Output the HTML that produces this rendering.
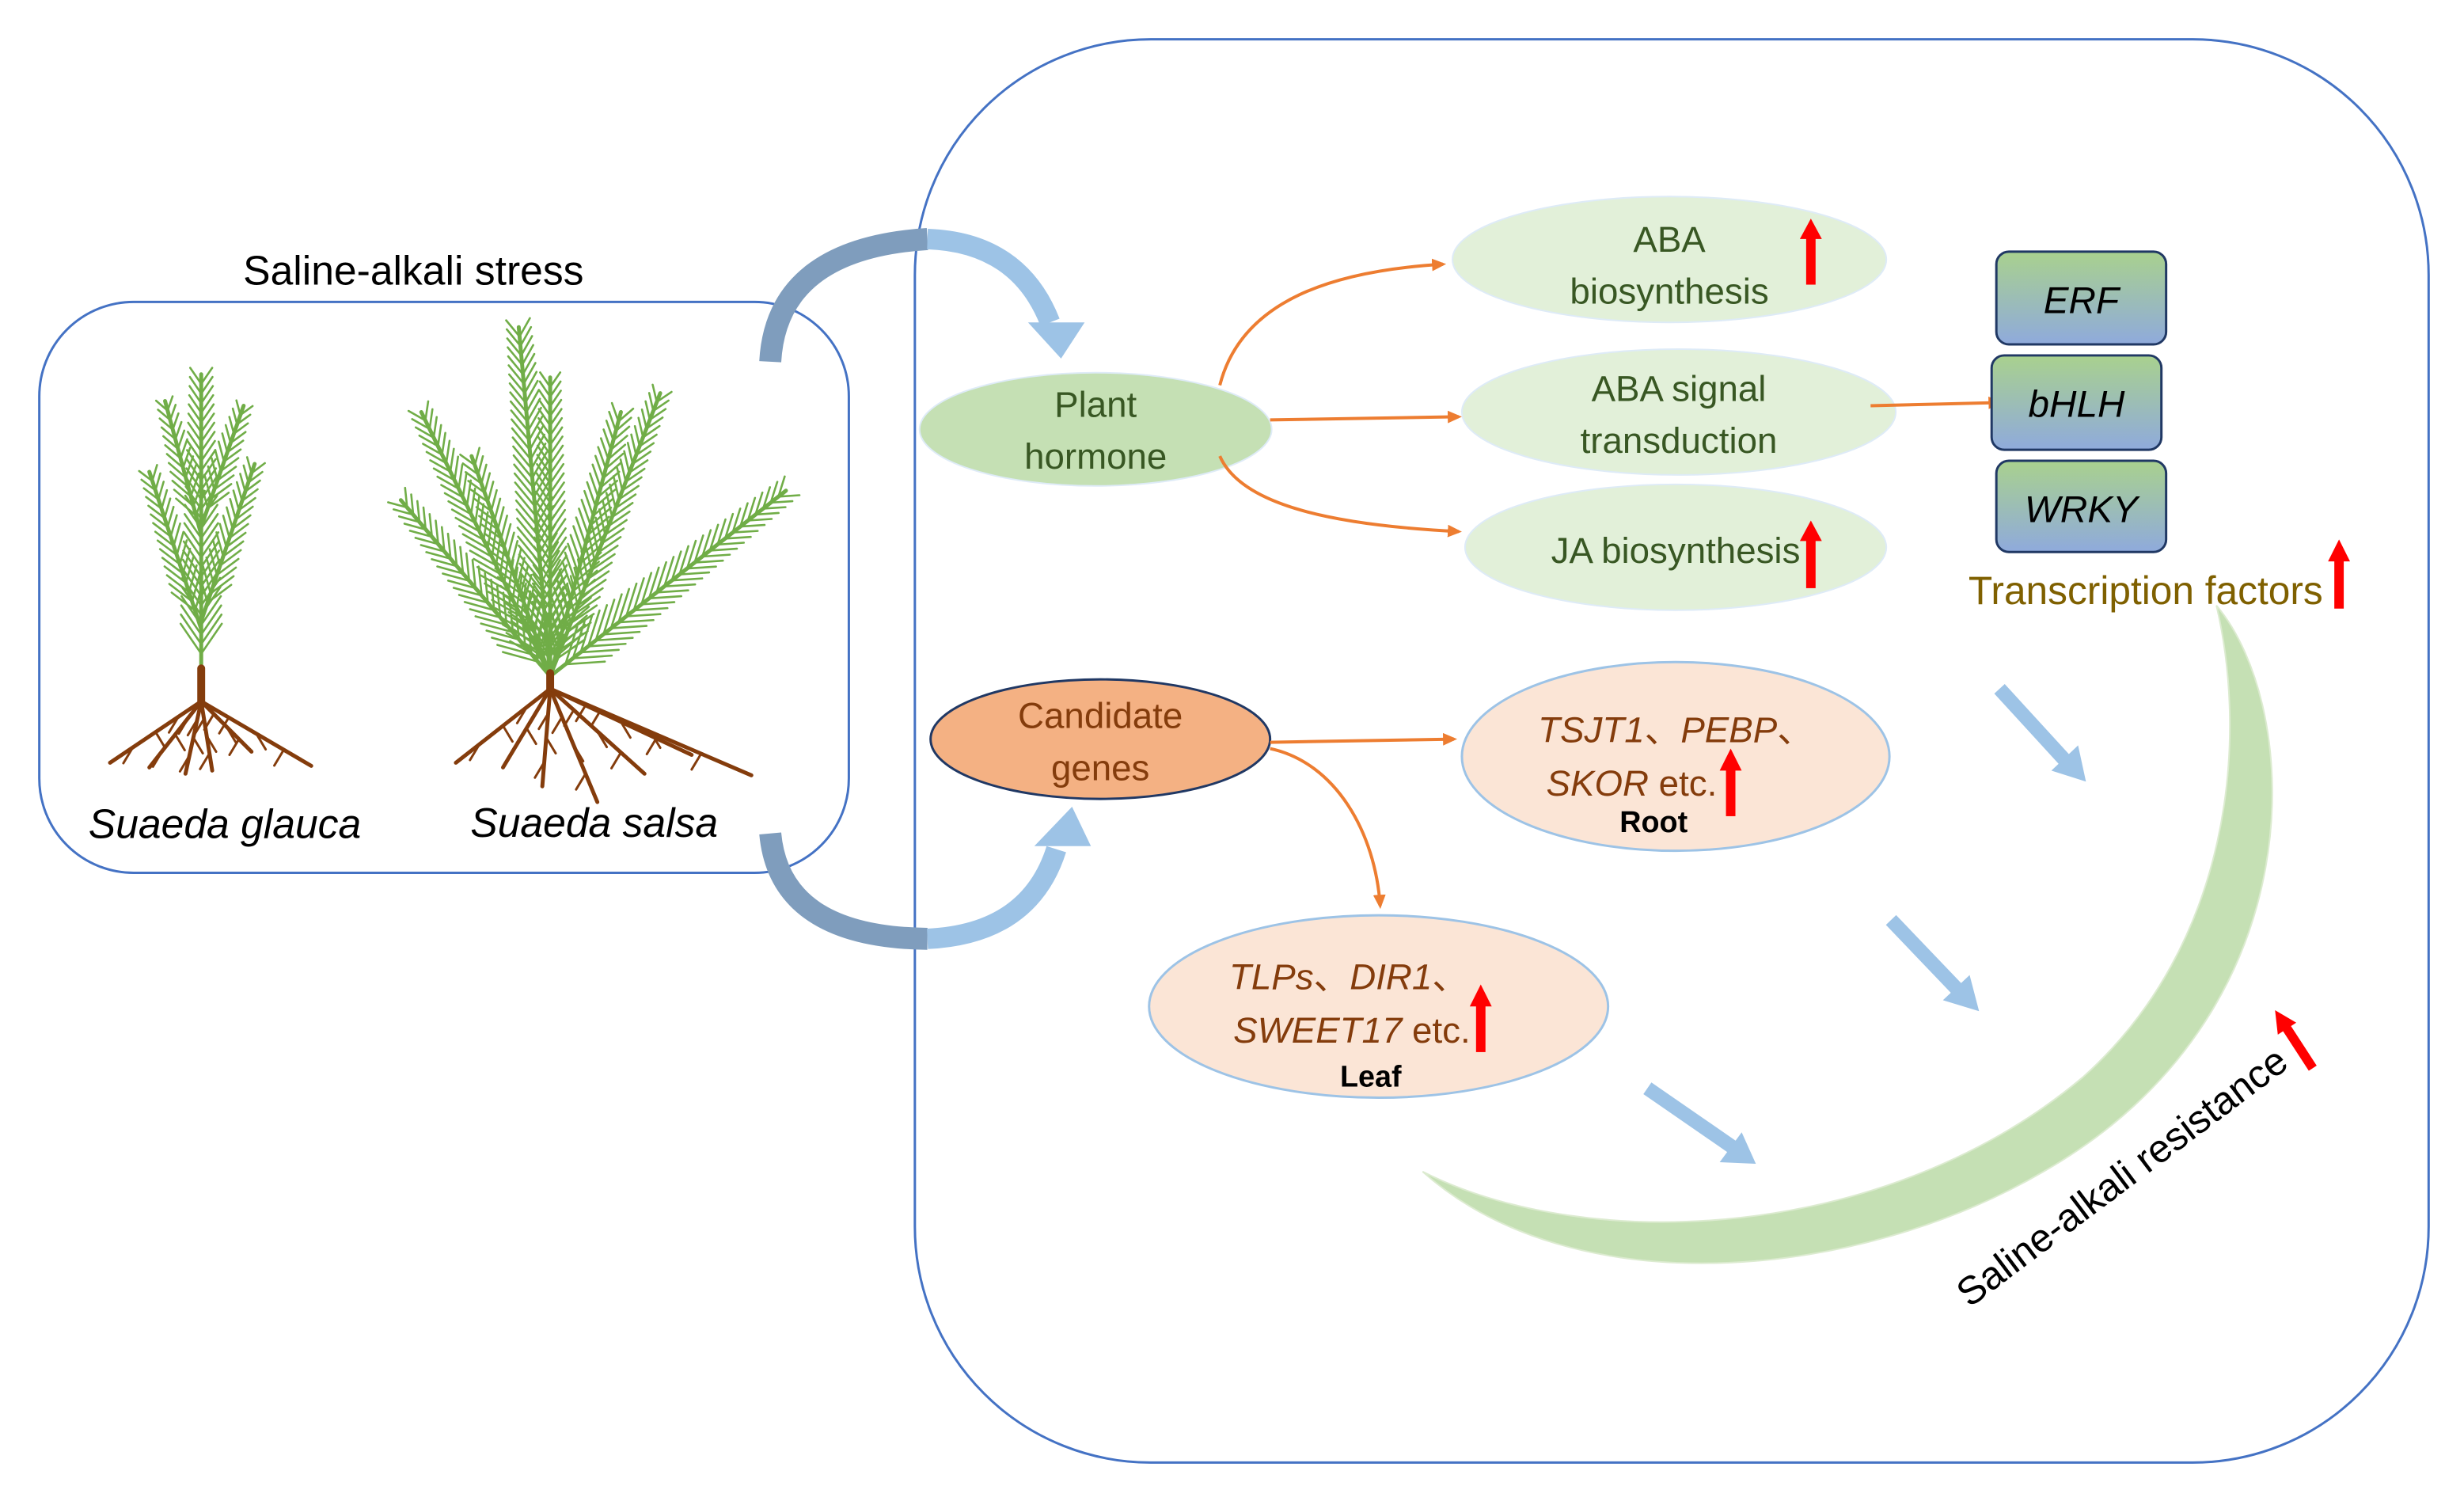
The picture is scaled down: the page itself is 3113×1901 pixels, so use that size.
<!DOCTYPE html>
<html><head><meta charset="utf-8"><style>
html,body{margin:0;padding:0;background:#fff;}
svg{display:block;}
text{font-family:"Liberation Sans",Arial,sans-serif;}
</style></head><body>
<svg id="s" width="3113" height="1901" viewBox="0 0 1567.5 957" preserveAspectRatio="none" xmlns="http://www.w3.org/2000/svg">
<defs>
<linearGradient id="tf" x1="0" y1="0" x2="0" y2="1">
<stop offset="0" stop-color="#A9D18E"/><stop offset="1" stop-color="#8FAADC"/></linearGradient>
<marker id="oa" markerWidth="9" markerHeight="8" refX="7" refY="4" orient="auto" markerUnits="userSpaceOnUse">
<path d="M0,0 L9,4 L0,8 Z" fill="#ED7D31"/></marker>
</defs>
<rect x="25" y="192" width="515" height="363" rx="60" fill="none" stroke="#4472C4" stroke-width="1.5"/>
<rect x="582" y="25" width="963" height="905" rx="150" fill="none" stroke="#4472C4" stroke-width="1.5"/>
<text x="263" y="181" font-size="26" text-anchor="middle" fill="#000">Saline-alkali stress</text>
<g id="plants"></g>
<text x="143" y="533" font-size="26" font-style="italic" text-anchor="middle">Suaeda glauca</text>
<text x="378" y="532" font-size="26" font-style="italic" text-anchor="middle">Suaeda salsa</text>
<path d="M490 230 Q494 158 590 152" fill="none" stroke="#7F9DBD" stroke-width="14"/>
<path d="M590 152 Q648 154 668 205" fill="none" stroke="#9DC3E6" stroke-width="13"/>
<polygon points="654,205 690,205 675,228" fill="#9DC3E6"/>
<path d="M490 530 Q496 596 590 597" fill="none" stroke="#7F9DBD" stroke-width="14"/>
<path d="M590 597 Q655 594 672 540" fill="none" stroke="#9DC3E6" stroke-width="13"/>
<polygon points="658,538 694,538 682,513" fill="#9DC3E6"/>
<path d="M1410 385 C1465 450,1475 645,1300 745 C1180 815,1000 830,905 745 C1010 798,1200 790,1325 685 C1420 600,1430 470,1410 385 Z" fill="#C5E0B4" stroke="#DCEBD0" stroke-width="1"/>
<ellipse cx="697" cy="273" rx="112" ry="36" fill="#C5E0B4" stroke="#DEEBF7"/>
<text x="697" y="265" font-size="23" text-anchor="middle" fill="#385723">Plant</text>
<text x="697" y="298" font-size="23" text-anchor="middle" fill="#385723">hormone</text>
<ellipse cx="1062" cy="165" rx="138" ry="40" fill="#E2F0D9" stroke="#DEEBF7"/>
<text x="1062" y="160" font-size="23" text-anchor="middle" fill="#385723">ABA</text>
<text x="1062" y="193" font-size="23" text-anchor="middle" fill="#385723">biosynthesis</text>
<ellipse cx="1068" cy="262" rx="138" ry="40" fill="#E2F0D9" stroke="#DEEBF7"/>
<text x="1068" y="255" font-size="23" text-anchor="middle" fill="#385723">ABA signal</text>
<text x="1068" y="288" font-size="23" text-anchor="middle" fill="#385723">transduction</text>
<ellipse cx="1066" cy="348" rx="134" ry="40" fill="#E2F0D9" stroke="#DEEBF7"/>
<text x="1066" y="358" font-size="23" text-anchor="middle" fill="#385723">JA biosynthesis</text>
<path d="M776 245 C790 190,850 172,918 168" fill="none" stroke="#ED7D31" stroke-width="2" marker-end="url(#oa)"/>
<path d="M808 267 L928 265" fill="none" stroke="#ED7D31" stroke-width="2" marker-end="url(#oa)"/>
<path d="M776 290 C790 322,850 334,928 338" fill="none" stroke="#ED7D31" stroke-width="2" marker-end="url(#oa)"/>
<path d="M1190 258 L1272 256" fill="none" stroke="#ED7D31" stroke-width="2" marker-end="url(#oa)"/>
<rect x="1270" y="160" width="108" height="59" rx="8" fill="url(#tf)" stroke="#203864" stroke-width="1.5"/>
<text x="1324" y="199" font-size="24" font-style="italic" text-anchor="middle">ERF</text>
<rect x="1267" y="226" width="108" height="60" rx="8" fill="url(#tf)" stroke="#203864" stroke-width="1.5"/>
<text x="1321" y="265" font-size="24" font-style="italic" text-anchor="middle">bHLH</text>
<rect x="1270" y="293" width="108" height="58" rx="8" fill="url(#tf)" stroke="#203864" stroke-width="1.5"/>
<text x="1324" y="332" font-size="24" font-style="italic" text-anchor="middle">WRKY</text>
<text x="1365" y="384" font-size="25" text-anchor="middle" fill="#7F6000">Transcription factors</text>
<ellipse cx="700" cy="470" rx="108" ry="38" fill="#F4B183" stroke="#203864" stroke-width="1.5"/>
<text x="700" y="463" font-size="23" text-anchor="middle" fill="#843C0C">Candidate</text>
<text x="700" y="496" font-size="23" text-anchor="middle" fill="#843C0C">genes</text>
<ellipse cx="1066" cy="481" rx="136" ry="60" fill="#FBE5D6" stroke="#9DC3E6" stroke-width="1.5"/>
<text x="1066" y="472" font-size="23" text-anchor="middle" fill="#843C0C"><tspan font-style="italic">TSJT1</tspan>、<tspan font-style="italic">PEBP</tspan>、</text>
<text x="1038" y="506" font-size="23" text-anchor="middle" fill="#843C0C"><tspan font-style="italic">SKOR</tspan> etc.</text>
<text x="1052" y="529" font-size="19" font-weight="bold" text-anchor="middle">Root</text>
<ellipse cx="877" cy="640" rx="146" ry="58" fill="#FBE5D6" stroke="#9DC3E6" stroke-width="1.5"/>
<text x="858" y="629" font-size="23" text-anchor="middle" fill="#843C0C"><tspan font-style="italic">TLPs</tspan>、<tspan font-style="italic">DIR1</tspan>、</text>
<text x="860" y="663" font-size="23" text-anchor="middle" fill="#843C0C"><tspan font-style="italic">SWEET17</tspan> etc.</text>
<text x="872" y="691" font-size="19" font-weight="bold" text-anchor="middle">Leaf</text>
<path d="M808 472 L925 470" fill="none" stroke="#ED7D31" stroke-width="2" marker-end="url(#oa)"/>
<path d="M808 476 C850 485,875 530,878 576" fill="none" stroke="#ED7D31" stroke-width="2" marker-end="url(#oa)"/>
<g fill="#9DC3E6">
<path d="M1272 438 L1316 486" stroke="#9DC3E6" stroke-width="9"/><polygon points="1305,490 1327,497 1322,474"/>
<path d="M1203 585 L1247 631" stroke="#9DC3E6" stroke-width="9"/><polygon points="1236,636 1259,643 1253,620"/>
<path d="M1048 692 L1103 730" stroke="#9DC3E6" stroke-width="9"/><polygon points="1094,739 1117,740 1108,720"/>
</g>
<text transform="translate(1355,755) rotate(-37)" font-size="25" text-anchor="middle">Saline-alkali resistance</text>
<g fill="#FF0000">
<rect x="1149" y="150" width="6" height="31"/><polygon points="1145,152 1152,139 1159,152"/>
<rect x="1149" y="342" width="6" height="32"/><polygon points="1145,344 1152,331 1159,344"/>
<rect x="1485" y="355" width="6" height="32"/><polygon points="1481,357 1488,343 1495,357"/>
<rect x="1098" y="488" width="6" height="31"/><polygon points="1094,490 1101,476 1108,490"/>
<rect x="939" y="638" width="6" height="31"/><polygon points="935,640 942,626 949,640"/>
<g transform="translate(1462,665) rotate(-33)"><rect x="-3" y="-15" width="6" height="32"/><polygon points="-7,-13 0,-27 7,-13"/></g>
</g>
</svg>
<script>
(function(){
var g=document.getElementById('plants'),out='';
function L(x1,y1,x2,y2,c,w){out+='<line x1="'+x1.toFixed(1)+'" y1="'+y1.toFixed(1)+'" x2="'+x2.toFixed(1)+'" y2="'+y2.toFixed(1)+'" stroke="'+c+'" stroke-width="'+w+'" stroke-linecap="round"/>';}
function br(x0,y0,x1,y1,nl){
 L(x0,y0,x1,y1,'#70AD47',2.5);
 var dx=x1-x0,dy=y1-y0,len=Math.hypot(dx,dy),ux=dx/len,uy=dy/len,n=Math.floor(len/6);
 for(var i=2;i<n;i++){var t=i/n,px=x0+dx*t,py=y0+dy*t,l=nl*(1-0.5*t);
  [0.6,-0.6].forEach(function(a){var ca=Math.cos(a),sa=Math.sin(a);
   var vx=ux*ca-uy*sa,vy=ux*sa+uy*ca;L(px,py,px+vx*l,py+vy*l,'#70AD47',1.3);});}
}
function root(x0,y0,x1,y1){L(x0,y0,x1,y1,'#843C0C',2.5);
 var n=4;for(var i=1;i<n;i++){var t=i/n,px=x0+(x1-x0)*t,py=y0+(y1-y0)*t;L(px,py,px+(i%2?-6:6),py+10,'#843C0C',1.5);}}
br(128,428,128,238,24);br(128,400,95,300,20);br(128,395,162,295,20);br(128,340,105,255,18);br(128,335,155,258,18);
L(128,425,128,448,'#843C0C',5);
[[70,485],[95,488],[118,492],[135,490],[160,478],[198,487]].forEach(function(p){root(128,446,p[0],p[1]);});
br(350,430,330,208,26);br(350,430,268,262,24);br(350,430,255,318,24);br(350,430,395,262,24);
br(350,430,420,250,22);br(350,430,500,312,26);br(350,430,300,290,22);br(350,430,350,240,22);
L(350,428,350,440,'#843C0C',5);
[[290,485],[320,488],[345,500],[380,510],[410,492],[478,493],[440,480]].forEach(function(p){root(350,438,p[0],p[1]);});
g.innerHTML=out;
})();
</script>
</body></html>
